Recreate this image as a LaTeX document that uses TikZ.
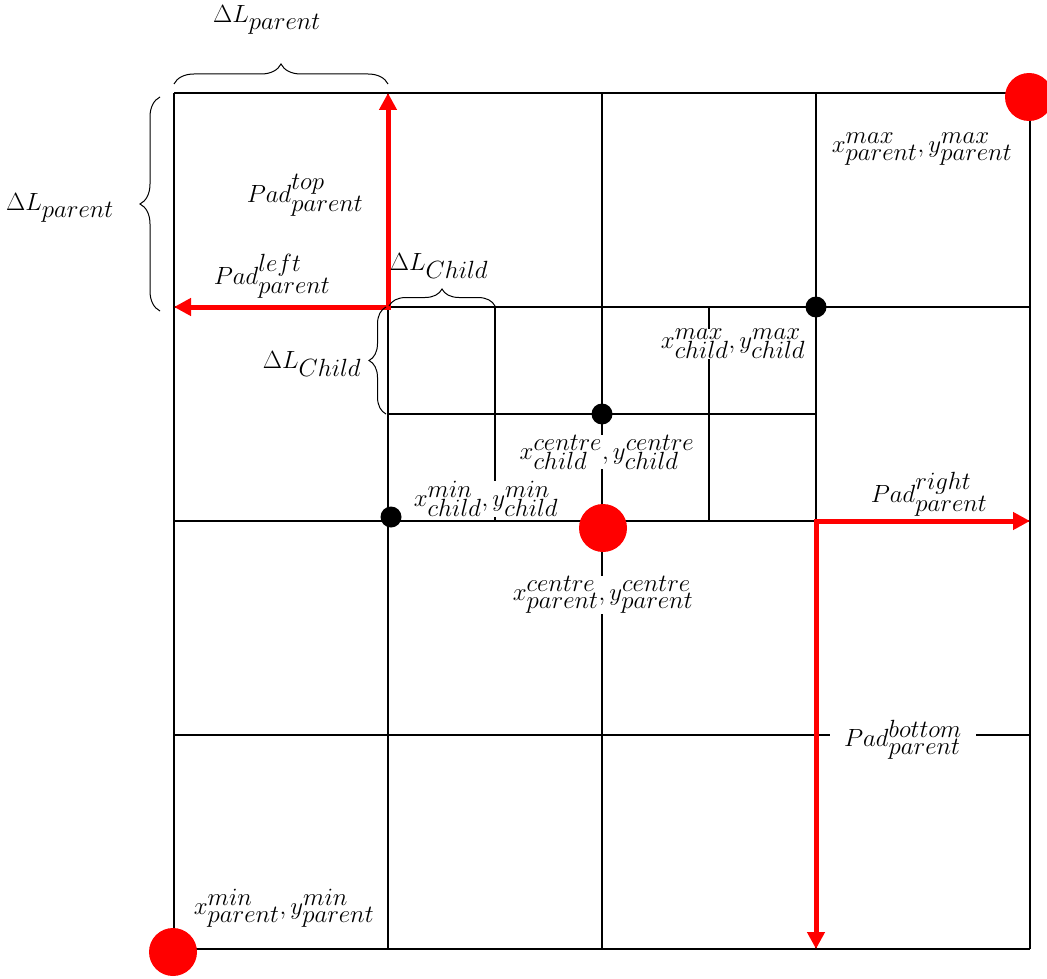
\documentclass[tikz,border=0pt]{standalone}
\usetikzlibrary{decorations.pathreplacing,arrows.meta}
\DeclareMathSizes{30}{30}{23}{17}
\begin{document}
\begin{tikzpicture}[x=1pt,y=-1pt,
  font=\fontsize{30}{34}\selectfont,
  gridline/.style={line width=1.8pt},
  redarr/.style={red, line width=5pt, line join=miter},
  lbl/.style={fill=white, inner sep=0pt},
  bigdot/.style={circle, fill=red, minimum size=48pt, inner sep=0pt},
  smalldot/.style={circle, fill=black, minimum size=21pt, inner sep=0pt},
  bigbrace/.style={decorate, decoration={brace, amplitude=20pt}, line width=1pt},
  smallbrace/.style={decorate, decoration={brace, amplitude=17pt}, line width=1pt},
  tip/.tip={Triangle[length=17pt,width=17pt]}]
\useasboundingbox (0,0) rectangle (1047,979);

% parent grid
\foreach \v in {174,388,602,816,1030} {
  \draw[gridline] (\v,93) -- (\v,949);
  \draw[gridline] (174,\v-81) -- (1030,\v-81);
}
% child subdivisions
\draw[gridline] (495,307) -- (495,521);
\draw[gridline] (709,307) -- (709,521);
\draw[gridline] (388,414) -- (816,414);

% red padding arrows
\coordinate (c1) at (388,307);
\coordinate (t1) at (388,93);
\coordinate (l1) at (174,307);
\coordinate (c2) at (816,521);
\coordinate (r2) at (1030,521);
\coordinate (b2) at (816,949);
\draw[redarr, tip-tip] (t1) -- (c1) -- (l1);
\draw[redarr, tip-tip] (r2) -- (c2) -- (b2);

% braces
\draw[bigbrace] (174,84) -- (388,84);
\draw[bigbrace] (160,311) -- (160,97);
\draw[smallbrace] (389,306) -- (495,306);
\draw[smallbrace] (386,414) -- (386,307);

% labels
\node (dlpt) at (267,20) {$\Delta L_{parent}$};
\node (dlpl) at (60,208) {$\Delta L_{parent}$};
\node (padtop) at (305,195) {$Pad^{top}_{parent}$};
\node (padleft) at (272,276) {$Pad^{left}_{parent}$};
\node (dlct) at (439,266) {$\Delta L_{Child}$};
\node (dlcl) at (312,364) {$\Delta L_{Child}$};
\node[lbl] (cmax) at (733,344) {$x^{max}_{child},y^{max}_{child}$};
\node[lbl] (ccen) at (607,452) {$x^{centre}_{child},y^{centre}_{child}$};
\node[lbl] (cmin) at (486,499) {$x^{min}_{child},y^{min}_{child}$};
\node[lbl] (pcen) at (603,595) {$x^{centre}_{parent},y^{centre}_{parent}$};
\node[lbl] (pmax) at (922,149) {$x^{max}_{parent},y^{max}_{parent}$};
\node[lbl] (pmin) at (284,908) {$x^{min}_{parent},y^{min}_{parent}$};
\node (padright) at (929,494) {$Pad^{right}_{parent}$};
\node[lbl, inner xsep=14pt, inner ysep=2pt] (padbot) at (903,740) {$Pad^{bottom}_{parent}$};

% points
\node[bigdot] (ppmax) at (1029,97) {};
\node[bigdot] (ppmin) at (173,952) {};
\node[bigdot] (ppcen) at (603,528) {};
\node[smalldot] (pcmin) at (391,517) {};
\node[smalldot] (pccen) at (602,414) {};
\node[smalldot] (pcmax) at (816,307) {};
\end{tikzpicture}
\end{document}
